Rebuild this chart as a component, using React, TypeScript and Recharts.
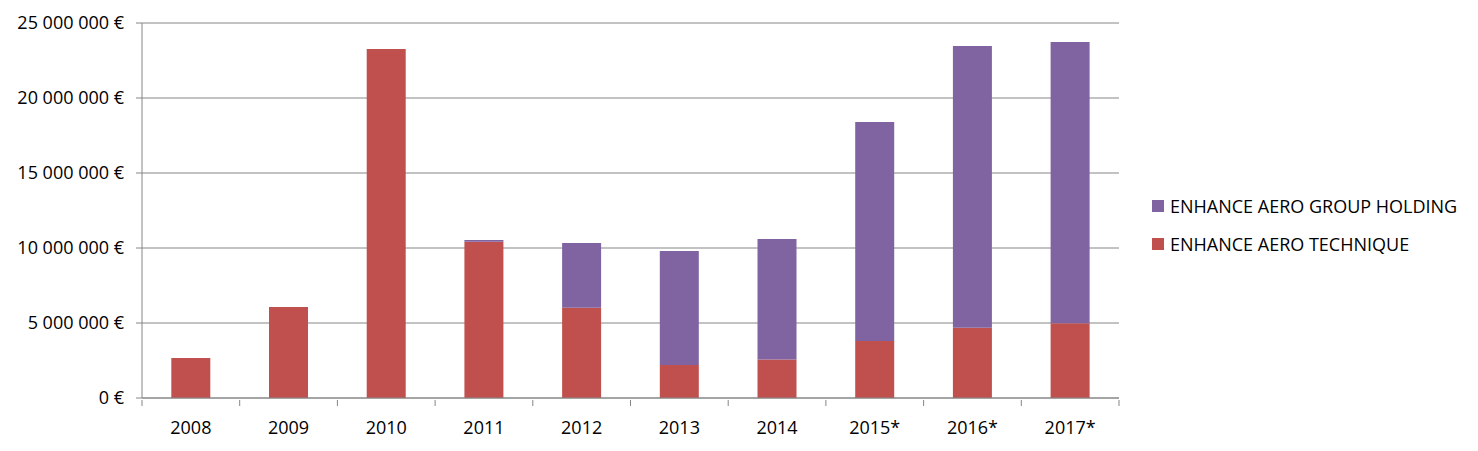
import React from "react";
import { BarChart, Bar, XAxis, YAxis, CartesianGrid } from "recharts";

const categories = ["2008", "2009", "2010", "2011", "2012", "2013", "2014", "2015*", "2016*", "2017*"];
const techniqueValues = [2670000, 6070000, 23270000, 10420000, 6020000, 2200000, 2560000, 3800000, 4690000, 4980000];
const holdingValues = [0, 0, 0, 110000, 4310000, 7600000, 8040000, 14600000, 18780000, 18750000];
const yTicks = [0, 5000000, 10000000, 15000000, 20000000, 25000000];

const seriesNames = ["ENHANCE AERO TECHNIQUE", "ENHANCE AERO GROUP HOLDING"];
const seriesKeys = ["tech", "hold"];
const seriesColors = ["#C0504D", "#8064A2"];

const data = categories.map((c, i) => ({
  year: c,
  tech: techniqueValues[i],
  hold: holdingValues[i],
}));

const FONT = "'Open Sans', sans-serif";
const GRID = "#868686";

const CHART_W = 1478;
const CHART_H = 451;
const MARGIN = { top: 23, right: 359, bottom: 0, left: 0 };
const Y_W = 142;
const X_H = 53;
const BAND = (CHART_W - MARGIN.right - MARGIN.left - Y_W) / categories.length;

const fmt = (v: number) => {
  if (v === 0) return "0 €";
  const s = Math.round(v).toString();
  return s.replace(/\B(?=(\d{3})+(?!\d))/g, " ") + " €";
};

const XTick = (props: any) => {
  const { x, y, payload, index } = props;
  const half = BAND / 2;
  const isLast = index === categories.length - 1;
  return (
    <g>
      <line x1={x - half} x2={x - half} y1={y} y2={y + 6} stroke={GRID} />
      {isLast && <line x1={x + half} x2={x + half} y1={y} y2={y + 6} stroke={GRID} />}
      <text x={x} y={y + 21} dy="0.71em" textAnchor="middle" fill="#000" fontSize={18} fontFamily={FONT}>
        {payload.value}
      </text>
    </g>
  );
};

export default function App() {
  const legendOrder = [1, 0];
  return (
    <div style={{ position: "absolute", left: 0, top: 0, width: CHART_W, height: CHART_H, background: "#fff" }}>
      <BarChart width={CHART_W} height={CHART_H} data={data} margin={MARGIN} barCategoryGap="30%">
        <CartesianGrid vertical={false} stroke={GRID} strokeWidth={1} />
        <XAxis
          dataKey="year"
          axisLine={{ stroke: GRID }}
          tickLine={false}
          tickSize={0}
          tick={<XTick />}
          interval={0}
          height={X_H}
        />
        <YAxis
          width={Y_W}
          domain={[0, 25000000]}
          ticks={yTicks}
          tickFormatter={fmt}
          axisLine={{ stroke: GRID }}
          tickLine={{ stroke: GRID }}
          tickSize={6}
          tickMargin={12}
          tick={{ fill: "#000", fontSize: 18, fontFamily: FONT }}
          interval={0}
        />
        {seriesKeys.map((k, i) => (
          <Bar key={k} dataKey={k} name={seriesNames[i]} stackId="a" fill={seriesColors[i]} isAnimationActive={false} />
        ))}
      </BarChart>
      <div style={{ position: "absolute", left: 1152, top: 187, fontFamily: FONT, fontSize: 18, color: "#000" }}>
        {legendOrder.map((i) => (
          <div key={seriesKeys[i]} style={{ display: "flex", alignItems: "center", height: 38, whiteSpace: "nowrap" }}>
            <span style={{ display: "inline-block", width: 12, height: 12, background: seriesColors[i], marginRight: 6 }} />
            <span>{seriesNames[i]}</span>
          </div>
        ))}
      </div>
    </div>
  );
}
